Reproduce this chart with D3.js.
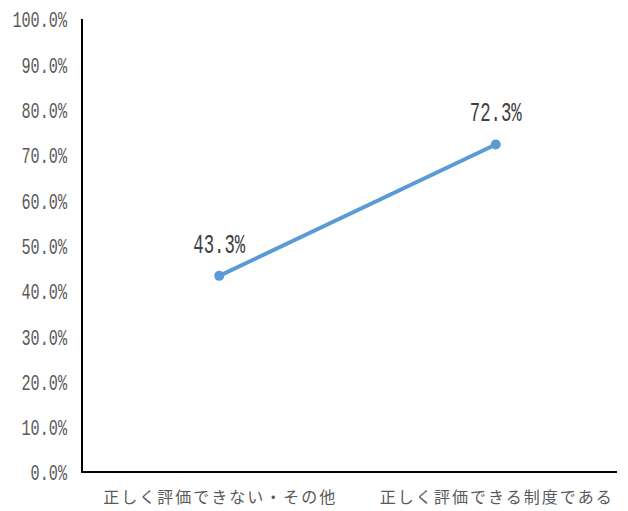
<!DOCTYPE html>
<html>
<head>
<meta charset="utf-8">
<script src="https://cdn.jsdelivr.net/npm/d3@7"></script>
<style>
  html, body { margin: 0; padding: 0; background: #fff; }
  svg { display: block; }
</style>
</head>
<body>
<svg id="chart" width="628" height="511"></svg>
<script>
// Categories and their shares (percent)
const categories = ["正しく評価できない・その他", "正しく評価できる制度である"];
const values = [43.3, 72.3];
const tickValues = [0, 10, 20, 30, 40, 50, 60, 70, 80, 90, 100];
const tickLabels = ["0.0%", "10.0%", "20.0%", "30.0%", "40.0%", "50.0%", "60.0%", "70.0%", "80.0%", "90.0%", "100.0%"];

const svg = d3.select("#chart");
const plotLeft = 82, plotRight = 617, plotTop = 19, plotBottom = 472;
const textColor = "#595959";
const numFont = "'Liberation Mono', 'DejaVu Sans Mono', monospace";

const y = d3.scaleLinear().domain([0, 100]).range([plotBottom, plotTop]);
const x = d3.scaleBand().domain(categories).range([81, 634]).padding(0);

// Y axis: no tick marks, condensed monospaced labels to the left
const yAxis = d3.axisLeft(y).tickValues(tickValues).tickSize(0).tickFormat((d, i) => tickLabels[i]);
const yg = svg.append("g").attr("transform", `translate(${plotLeft},0)`).call(yAxis);
yg.select(".domain").remove();
yg.selectAll(".tick text")
  .attr("x", -15)
  .attr("dy", "0.36em")
  .attr("fill", textColor)
  .style("font-family", numFont)
  .style("font-size", "22px")
  .attr("textLength", (d, i) => tickLabels[i].length * 9.1)
  .attr("lengthAdjust", "spacingAndGlyphs");

svg.append("line")
  .attr("x1", plotLeft).attr("x2", plotLeft)
  .attr("y1", plotTop).attr("y2", plotBottom)
  .attr("stroke", "#000").attr("stroke-width", 2);

// X axis line and category labels
svg.append("line")
  .attr("x1", plotLeft - 1).attr("x2", plotRight)
  .attr("y1", plotBottom).attr("y2", plotBottom)
  .attr("stroke", "#000").attr("stroke-width", 2);

const xAxis = d3.axisBottom(x).tickSize(0);
const xg = svg.append("g").attr("transform", `translate(0,${plotBottom})`).call(xAxis);
xg.select(".domain").remove();
xg.selectAll(".tick text")
  .attr("y", 25)
  .attr("dy", "0.35em")
  .attr("fill", textColor)
  .style("font-family", "'Noto Sans CJK JP', sans-serif")
  .style("font-size", "16px")
  .attr("textLength", 232)
  .attr("lengthAdjust", "spacing");

// Line series
const pts = categories.map((c, i) => ({ c, v: values[i] }));
const cx = d => x(d.c) + x.bandwidth() / 2;

svg.append("path")
  .datum(pts)
  .attr("fill", "none")
  .attr("stroke", "#5B9BD5")
  .attr("stroke-width", 4)
  .attr("stroke-linecap", "round")
  .attr("d", d3.line().x(cx).y(d => y(d.v)));

svg.selectAll("circle.pt")
  .data(pts)
  .join("circle")
  .attr("class", "pt")
  .attr("cx", cx)
  .attr("cy", d => y(d.v))
  .attr("r", 5)
  .attr("fill", "#5B9BD5");

// Data labels
svg.selectAll("text.val")
  .data(pts)
  .join("text")
  .attr("class", "val")
  .attr("x", cx)
  .attr("y", d => y(d.v) - 33)
  .attr("dy", "0.36em")
  .attr("text-anchor", "middle")
  .attr("fill", "#404040")
  .style("font-family", numFont)
  .style("font-size", "27px")
  .attr("textLength", 52)
  .attr("lengthAdjust", "spacingAndGlyphs")
  .text(d => d.v.toFixed(1) + "%");
</script>
</body>
</html>
